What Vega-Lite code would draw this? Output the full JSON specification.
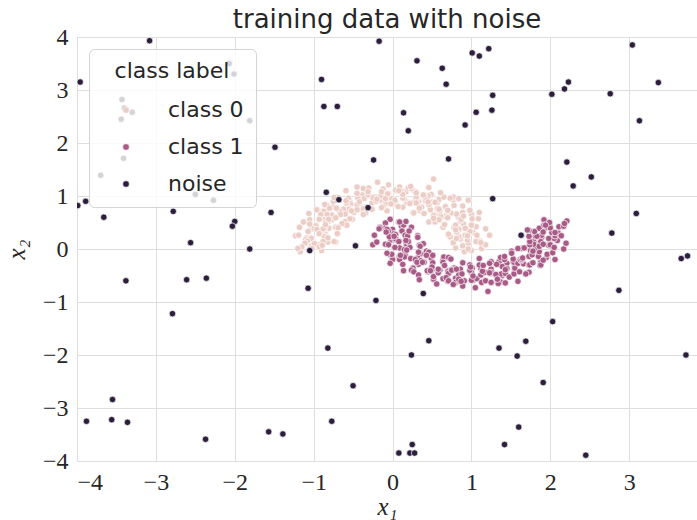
{
  "$schema": "https://vega.github.io/schema/vega-lite/v6.json",
  "width": 620,
  "height": 424,
  "autosize": "none",
  "padding": {"left": 77, "top": 37, "right": 0, "bottom": 59},
  "background": "white",
  "title": {
    "text": "training data with noise",
    "font": "DejaVu Sans",
    "fontSize": 26,
    "fontWeight": "normal",
    "color": "#262626",
    "anchor": "middle",
    "offset": -8
  },
  "data": {
    "values": [
      {"x": 0.91, "y": 0.05, "c": "class 0"}, {"x": 1.00, "y": -0.03, "c": "class 0"}, {"x": 1.13, "y": 0.01, "c": "class 0"}, {"x": 0.91, "y": -0.05, "c": "class 0"},
      {"x": 1.10, "y": 0.13, "c": "class 0"}, {"x": 0.89, "y": 0.06, "c": "class 0"}, {"x": 0.96, "y": 0.11, "c": "class 0"}, {"x": 1.17, "y": 0.08, "c": "class 0"},
      {"x": 0.86, "y": 0.19, "c": "class 0"}, {"x": 1.07, "y": 0.16, "c": "class 0"}, {"x": 0.95, "y": 0.17, "c": "class 0"}, {"x": 1.11, "y": 0.15, "c": "class 0"},
      {"x": 0.83, "y": 0.25, "c": "class 0"}, {"x": 1.02, "y": 0.31, "c": "class 0"}, {"x": 1.07, "y": 0.26, "c": "class 0"}, {"x": 0.92, "y": 0.26, "c": "class 0"},
      {"x": 0.98, "y": 0.32, "c": "class 0"}, {"x": 0.81, "y": 0.33, "c": "class 0"}, {"x": 0.98, "y": 0.33, "c": "class 0"}, {"x": 1.06, "y": 0.42, "c": "class 0"},
      {"x": 0.84, "y": 0.37, "c": "class 0"}, {"x": 0.90, "y": 0.47, "c": "class 0"}, {"x": 0.92, "y": 0.39, "c": "class 0"}, {"x": 1.00, "y": 0.47, "c": "class 0"},
      {"x": 0.78, "y": 0.40, "c": "class 0"}, {"x": 0.86, "y": 0.53, "c": "class 0"}, {"x": 1.01, "y": 0.62, "c": "class 0"}, {"x": 0.80, "y": 0.45, "c": "class 0"},
      {"x": 0.88, "y": 0.63, "c": "class 0"}, {"x": 0.65, "y": 0.43, "c": "class 0"}, {"x": 0.83, "y": 0.61, "c": "class 0"}, {"x": 1.00, "y": 0.66, "c": "class 0"},
      {"x": 0.67, "y": 0.61, "c": "class 0"}, {"x": 0.81, "y": 0.66, "c": "class 0"}, {"x": 0.69, "y": 0.65, "c": "class 0"}, {"x": 0.89, "y": 0.69, "c": "class 0"},
      {"x": 0.61, "y": 0.62, "c": "class 0"}, {"x": 0.74, "y": 0.68, "c": "class 0"}, {"x": 0.78, "y": 0.82, "c": "class 0"}, {"x": 0.70, "y": 0.72, "c": "class 0"},
      {"x": 0.67, "y": 0.80, "c": "class 0"}, {"x": 0.54, "y": 0.65, "c": "class 0"}, {"x": 0.60, "y": 0.71, "c": "class 0"}, {"x": 0.77, "y": 0.93, "c": "class 0"},
      {"x": 0.58, "y": 0.74, "c": "class 0"}, {"x": 0.57, "y": 0.88, "c": "class 0"}, {"x": 0.57, "y": 0.77, "c": "class 0"}, {"x": 0.59, "y": 0.94, "c": "class 0"},
      {"x": 0.48, "y": 0.74, "c": "class 0"}, {"x": 0.50, "y": 0.88, "c": "class 0"}, {"x": 0.59, "y": 0.94, "c": "class 0"}, {"x": 0.46, "y": 0.84, "c": "class 0"},
      {"x": 0.49, "y": 1.03, "c": "class 0"}, {"x": 0.34, "y": 0.73, "c": "class 0"}, {"x": 0.42, "y": 0.91, "c": "class 0"}, {"x": 0.45, "y": 1.00, "c": "class 0"},
      {"x": 0.33, "y": 0.90, "c": "class 0"}, {"x": 0.41, "y": 0.98, "c": "class 0"}, {"x": 0.30, "y": 0.93, "c": "class 0"}, {"x": 0.39, "y": 1.02, "c": "class 0"},
      {"x": 0.18, "y": 0.88, "c": "class 0"}, {"x": 0.30, "y": 0.97, "c": "class 0"}, {"x": 0.28, "y": 1.09, "c": "class 0"}, {"x": 0.27, "y": 0.88, "c": "class 0"},
      {"x": 0.17, "y": 1.08, "c": "class 0"}, {"x": 0.18, "y": 0.88, "c": "class 0"}, {"x": 0.15, "y": 0.95, "c": "class 0"}, {"x": 0.20, "y": 1.15, "c": "class 0"},
      {"x": 0.04, "y": 0.87, "c": "class 0"}, {"x": 0.11, "y": 1.09, "c": "class 0"}, {"x": 0.13, "y": 0.96, "c": "class 0"}, {"x": 0.07, "y": 1.13, "c": "class 0"},
      {"x": 0.01, "y": 0.86, "c": "class 0"}, {"x": -0.05, "y": 1.05, "c": "class 0"}, {"x": 0.04, "y": 1.11, "c": "class 0"}, {"x": -0.01, "y": 0.95, "c": "class 0"},
      {"x": -0.07, "y": 1.04, "c": "class 0"}, {"x": -0.09, "y": 0.86, "c": "class 0"}, {"x": -0.06, "y": 1.04, "c": "class 0"}, {"x": -0.12, "y": 1.13, "c": "class 0"},
      {"x": -0.16, "y": 0.92, "c": "class 0"}, {"x": -0.22, "y": 0.98, "c": "class 0"}, {"x": -0.15, "y": 1.00, "c": "class 0"}, {"x": -0.14, "y": 1.08, "c": "class 0"},
      {"x": -0.26, "y": 0.87, "c": "class 0"}, {"x": -0.25, "y": 0.97, "c": "class 0"}, {"x": -0.34, "y": 1.12, "c": "class 0"}, {"x": -0.21, "y": 0.90, "c": "class 0"},
      {"x": -0.38, "y": 1.02, "c": "class 0"}, {"x": -0.27, "y": 0.75, "c": "class 0"}, {"x": -0.36, "y": 0.95, "c": "class 0"}, {"x": -0.37, "y": 1.14, "c": "class 0"},
      {"x": -0.41, "y": 0.80, "c": "class 0"}, {"x": -0.44, "y": 0.96, "c": "class 0"}, {"x": -0.45, "y": 0.83, "c": "class 0"}, {"x": -0.45, "y": 1.05, "c": "class 0"},
      {"x": -0.39, "y": 0.75, "c": "class 0"}, {"x": -0.54, "y": 0.90, "c": "class 0"}, {"x": -0.56, "y": 0.96, "c": "class 0"}, {"x": -0.53, "y": 0.85, "c": "class 0"},
      {"x": -0.58, "y": 0.86, "c": "class 0"}, {"x": -0.49, "y": 0.69, "c": "class 0"}, {"x": -0.55, "y": 0.77, "c": "class 0"}, {"x": -0.69, "y": 0.97, "c": "class 0"},
      {"x": -0.56, "y": 0.75, "c": "class 0"}, {"x": -0.70, "y": 0.77, "c": "class 0"}, {"x": -0.62, "y": 0.75, "c": "class 0"}, {"x": -0.75, "y": 0.80, "c": "class 0"},
      {"x": -0.60, "y": 0.66, "c": "class 0"}, {"x": -0.67, "y": 0.71, "c": "class 0"}, {"x": -0.83, "y": 0.82, "c": "class 0"}, {"x": -0.66, "y": 0.65, "c": "class 0"},
      {"x": -0.88, "y": 0.72, "c": "class 0"}, {"x": -0.60, "y": 0.52, "c": "class 0"}, {"x": -0.77, "y": 0.64, "c": "class 0"}, {"x": -0.87, "y": 0.71, "c": "class 0"},
      {"x": -0.77, "y": 0.55, "c": "class 0"}, {"x": -0.83, "y": 0.65, "c": "class 0"}, {"x": -0.81, "y": 0.53, "c": "class 0"}, {"x": -0.91, "y": 0.65, "c": "class 0"},
      {"x": -0.80, "y": 0.39, "c": "class 0"}, {"x": -0.86, "y": 0.55, "c": "class 0"}, {"x": -0.93, "y": 0.56, "c": "class 0"}, {"x": -0.85, "y": 0.50, "c": "class 0"},
      {"x": -0.97, "y": 0.44, "c": "class 0"}, {"x": -0.81, "y": 0.39, "c": "class 0"}, {"x": -0.86, "y": 0.40, "c": "class 0"}, {"x": -1.06, "y": 0.49, "c": "class 0"},
      {"x": -0.85, "y": 0.28, "c": "class 0"}, {"x": -1.01, "y": 0.38, "c": "class 0"}, {"x": -0.88, "y": 0.38, "c": "class 0"}, {"x": -1.06, "y": 0.35, "c": "class 0"},
      {"x": -0.85, "y": 0.24, "c": "class 0"}, {"x": -1.03, "y": 0.21, "c": "class 0"}, {"x": -1.07, "y": 0.33, "c": "class 0"}, {"x": -0.87, "y": 0.24, "c": "class 0"},
      {"x": -1.09, "y": 0.21, "c": "class 0"}, {"x": -0.82, "y": 0.13, "c": "class 0"}, {"x": -1.03, "y": 0.20, "c": "class 0"}, {"x": -1.10, "y": 0.18, "c": "class 0"},
      {"x": -0.93, "y": 0.08, "c": "class 0"}, {"x": -1.03, "y": 0.05, "c": "class 0"}, {"x": -0.99, "y": 0.10, "c": "class 0"}, {"x": -1.08, "y": 0.15, "c": "class 0"},
      {"x": -0.90, "y": -0.03, "c": "class 0"}, {"x": -1.02, "y": 0.01, "c": "class 0"}, {"x": -1.17, "y": -0.05, "c": "class 0"}, {"x": -0.93, "y": 0.04, "c": "class 0"},
      {"x": 0.52, "y": 1.32, "c": "class 0"}, {"x": 0.96, "y": 0.92, "c": "class 0"}, {"x": 1.10, "y": 0.69, "c": "class 0"}, {"x": 0.46, "y": 0.51, "c": "class 0"},
      {"x": -1.13, "y": 0.51, "c": "class 0"}, {"x": -1.23, "y": 0.25, "c": "class 0"}, {"x": 0.77, "y": 0.98, "c": "class 0"},
      {"x": 0.80, "y": 0.02, "c": "class 0"}, {"x": 1.18, "y": 0.08, "c": "class 0"}, {"x": 0.96, "y": 0.00, "c": "class 0"}, {"x": 1.06, "y": 0.14, "c": "class 0"},
      {"x": 0.77, "y": 0.12, "c": "class 0"}, {"x": 1.12, "y": 0.12, "c": "class 0"}, {"x": 0.84, "y": 0.23, "c": "class 0"}, {"x": 1.23, "y": 0.26, "c": "class 0"},
      {"x": 0.95, "y": 0.25, "c": "class 0"}, {"x": 0.81, "y": 0.20, "c": "class 0"}, {"x": 0.73, "y": 0.23, "c": "class 0"}, {"x": 1.18, "y": 0.38, "c": "class 0"},
      {"x": 0.81, "y": 0.32, "c": "class 0"}, {"x": 1.00, "y": 0.45, "c": "class 0"}, {"x": 0.71, "y": 0.28, "c": "class 0"}, {"x": 1.01, "y": 0.57, "c": "class 0"},
      {"x": 0.80, "y": 0.36, "c": "class 0"}, {"x": 1.09, "y": 0.57, "c": "class 0"}, {"x": 0.87, "y": 0.56, "c": "class 0"}, {"x": 0.64, "y": 0.41, "c": "class 0"},
      {"x": 0.66, "y": 0.46, "c": "class 0"}, {"x": 0.98, "y": 0.73, "c": "class 0"}, {"x": 0.70, "y": 0.59, "c": "class 0"}, {"x": 0.90, "y": 0.62, "c": "class 0"},
      {"x": 0.54, "y": 0.51, "c": "class 0"}, {"x": 0.89, "y": 0.81, "c": "class 0"}, {"x": 0.59, "y": 0.55, "c": "class 0"}, {"x": 0.84, "y": 0.95, "c": "class 0"},
      {"x": 0.70, "y": 0.73, "c": "class 0"}, {"x": 0.52, "y": 0.63, "c": "class 0"}, {"x": 0.52, "y": 0.58, "c": "class 0"}, {"x": 0.73, "y": 0.96, "c": "class 0"},
      {"x": 0.59, "y": 0.75, "c": "class 0"}, {"x": 0.54, "y": 0.88, "c": "class 0"}, {"x": 0.40, "y": 0.67, "c": "class 0"}, {"x": 0.65, "y": 0.98, "c": "class 0"},
      {"x": 0.37, "y": 0.79, "c": "class 0"}, {"x": 0.61, "y": 1.06, "c": "class 0"}, {"x": 0.45, "y": 0.89, "c": "class 0"}, {"x": 0.34, "y": 0.77, "c": "class 0"},
      {"x": 0.26, "y": 0.69, "c": "class 0"}, {"x": 0.46, "y": 1.16, "c": "class 0"}, {"x": 0.30, "y": 0.87, "c": "class 0"}, {"x": 0.30, "y": 1.06, "c": "class 0"},
      {"x": 0.27, "y": 0.68, "c": "class 0"}, {"x": 0.24, "y": 1.14, "c": "class 0"}, {"x": 0.22, "y": 0.86, "c": "class 0"}, {"x": 0.23, "y": 1.18, "c": "class 0"},
      {"x": 0.13, "y": 1.03, "c": "class 0"}, {"x": 0.13, "y": 0.79, "c": "class 0"}, {"x": 0.07, "y": 0.80, "c": "class 0"}, {"x": 0.09, "y": 1.17, "c": "class 0"},
      {"x": 0.03, "y": 0.92, "c": "class 0"}, {"x": 0.08, "y": 1.10, "c": "class 0"}, {"x": -0.07, "y": 0.72, "c": "class 0"}, {"x": -0.05, "y": 1.21, "c": "class 0"},
      {"x": -0.02, "y": 0.85, "c": "class 0"}, {"x": -0.19, "y": 1.26, "c": "class 0"}, {"x": -0.09, "y": 0.95, "c": "class 0"}, {"x": -0.12, "y": 0.80, "c": "class 0"},
      {"x": -0.14, "y": 0.78, "c": "class 0"}, {"x": -0.30, "y": 1.15, "c": "class 0"}, {"x": -0.20, "y": 0.94, "c": "class 0"}, {"x": -0.31, "y": 1.02, "c": "class 0"},
      {"x": -0.26, "y": 0.75, "c": "class 0"}, {"x": -0.31, "y": 1.08, "c": "class 0"}, {"x": -0.34, "y": 0.79, "c": "class 0"}, {"x": -0.45, "y": 1.17, "c": "class 0"},
      {"x": -0.42, "y": 0.89, "c": "class 0"}, {"x": -0.37, "y": 0.76, "c": "class 0"}, {"x": -0.34, "y": 0.68, "c": "class 0"}, {"x": -0.59, "y": 1.10, "c": "class 0"},
      {"x": -0.45, "y": 0.74, "c": "class 0"}, {"x": -0.59, "y": 0.91, "c": "class 0"}, {"x": -0.37, "y": 0.65, "c": "class 0"}, {"x": -0.75, "y": 0.90, "c": "class 0"},
      {"x": -0.52, "y": 0.72, "c": "class 0"}, {"x": -0.74, "y": 0.97, "c": "class 0"}, {"x": -0.71, "y": 0.77, "c": "class 0"}, {"x": -0.51, "y": 0.56, "c": "class 0"},
      {"x": -0.54, "y": 0.57, "c": "class 0"}, {"x": -0.86, "y": 0.84, "c": "class 0"}, {"x": -0.72, "y": 0.59, "c": "class 0"}, {"x": -0.80, "y": 0.77, "c": "class 0"},
      {"x": -0.58, "y": 0.45, "c": "class 0"}, {"x": -0.96, "y": 0.74, "c": "class 0"}, {"x": -0.64, "y": 0.48, "c": "class 0"}, {"x": -1.06, "y": 0.67, "c": "class 0"},
      {"x": -0.81, "y": 0.56, "c": "class 0"}, {"x": -0.72, "y": 0.41, "c": "class 0"}, {"x": -0.69, "y": 0.40, "c": "class 0"}, {"x": -1.05, "y": 0.55, "c": "class 0"},
      {"x": -0.85, "y": 0.46, "c": "class 0"}, {"x": -0.96, "y": 0.37, "c": "class 0"}, {"x": -0.70, "y": 0.29, "c": "class 0"}, {"x": -1.05, "y": 0.47, "c": "class 0"},
      {"x": -0.86, "y": 0.23, "c": "class 0"}, {"x": -1.18, "y": 0.41, "c": "class 0"}, {"x": -0.93, "y": 0.29, "c": "class 0"}, {"x": -0.82, "y": 0.21, "c": "class 0"},
      {"x": -0.72, "y": 0.13, "c": "class 0"}, {"x": -1.19, "y": 0.26, "c": "class 0"}, {"x": -0.88, "y": 0.14, "c": "class 0"}, {"x": -1.11, "y": 0.11, "c": "class 0"},
      {"x": -0.74, "y": 0.14, "c": "class 0"}, {"x": -1.15, "y": 0.04, "c": "class 0"}, {"x": -0.89, "y": 0.07, "c": "class 0"}, {"x": -1.20, "y": 0.01, "c": "class 0"},

      {"x": 0.11, "y": 0.44, "c": "class 1"}, {"x": -0.03, "y": 0.56, "c": "class 1"}, {"x": -0.09, "y": 0.49, "c": "class 1"}, {"x": 0.08, "y": 0.51, "c": "class 1"},
      {"x": -0.10, "y": 0.39, "c": "class 1"}, {"x": 0.14, "y": 0.45, "c": "class 1"}, {"x": 0.00, "y": 0.37, "c": "class 1"}, {"x": -0.16, "y": 0.41, "c": "class 1"},
      {"x": 0.12, "y": 0.34, "c": "class 1"}, {"x": -0.05, "y": 0.34, "c": "class 1"}, {"x": 0.02, "y": 0.29, "c": "class 1"}, {"x": -0.07, "y": 0.37, "c": "class 1"},
      {"x": 0.16, "y": 0.26, "c": "class 1"}, {"x": -0.02, "y": 0.17, "c": "class 1"}, {"x": -0.04, "y": 0.23, "c": "class 1"}, {"x": 0.04, "y": 0.27, "c": "class 1"},
      {"x": 0.03, "y": 0.18, "c": "class 1"}, {"x": 0.17, "y": 0.13, "c": "class 1"}, {"x": 0.04, "y": 0.19, "c": "class 1"}, {"x": -0.09, "y": 0.09, "c": "class 1"},
      {"x": 0.20, "y": 0.11, "c": "class 1"}, {"x": 0.09, "y": 0.02, "c": "class 1"}, {"x": 0.08, "y": 0.14, "c": "class 1"}, {"x": 0.03, "y": 0.03, "c": "class 1"},
      {"x": 0.18, "y": 0.06, "c": "class 1"}, {"x": 0.15, "y": -0.01, "c": "class 1"}, {"x": -0.03, "y": -0.11, "c": "class 1"}, {"x": 0.22, "y": 0.03, "c": "class 1"},
      {"x": 0.09, "y": -0.14, "c": "class 1"}, {"x": 0.39, "y": 0.10, "c": "class 1"}, {"x": 0.16, "y": -0.11, "c": "class 1"}, {"x": 0.00, "y": -0.20, "c": "class 1"},
      {"x": 0.36, "y": -0.09, "c": "class 1"}, {"x": 0.15, "y": -0.15, "c": "class 1"}, {"x": 0.32, "y": -0.17, "c": "class 1"}, {"x": 0.09, "y": -0.20, "c": "class 1"},
      {"x": 0.41, "y": -0.09, "c": "class 1"}, {"x": 0.23, "y": -0.18, "c": "class 1"}, {"x": 0.26, "y": -0.36, "c": "class 1"}, {"x": 0.29, "y": -0.20, "c": "class 1"},
      {"x": 0.33, "y": -0.29, "c": "class 1"}, {"x": 0.49, "y": -0.17, "c": "class 1"}, {"x": 0.36, "y": -0.22, "c": "class 1"}, {"x": 0.24, "y": -0.40, "c": "class 1"},
      {"x": 0.40, "y": -0.24, "c": "class 1"}, {"x": 0.45, "y": -0.42, "c": "class 1"}, {"x": 0.40, "y": -0.25, "c": "class 1"}, {"x": 0.45, "y": -0.43, "c": "class 1"},
      {"x": 0.51, "y": -0.26, "c": "class 1"}, {"x": 0.50, "y": -0.39, "c": "class 1"}, {"x": 0.44, "y": -0.41, "c": "class 1"}, {"x": 0.50, "y": -0.34, "c": "class 1"},
      {"x": 0.52, "y": -0.57, "c": "class 1"}, {"x": 0.64, "y": -0.21, "c": "class 1"}, {"x": 0.60, "y": -0.40, "c": "class 1"}, {"x": 0.52, "y": -0.52, "c": "class 1"},
      {"x": 0.71, "y": -0.41, "c": "class 1"}, {"x": 0.58, "y": -0.45, "c": "class 1"}, {"x": 0.70, "y": -0.43, "c": "class 1"}, {"x": 0.64, "y": -0.56, "c": "class 1"},
      {"x": 0.78, "y": -0.36, "c": "class 1"}, {"x": 0.71, "y": -0.46, "c": "class 1"}, {"x": 0.70, "y": -0.61, "c": "class 1"}, {"x": 0.75, "y": -0.39, "c": "class 1"},
      {"x": 0.80, "y": -0.55, "c": "class 1"}, {"x": 0.86, "y": -0.38, "c": "class 1"}, {"x": 0.84, "y": -0.49, "c": "class 1"}, {"x": 0.80, "y": -0.63, "c": "class 1"},
      {"x": 0.99, "y": -0.36, "c": "class 1"}, {"x": 0.85, "y": -0.61, "c": "class 1"}, {"x": 0.88, "y": -0.47, "c": "class 1"}, {"x": 0.91, "y": -0.60, "c": "class 1"},
      {"x": 1.01, "y": -0.36, "c": "class 1"}, {"x": 1.02, "y": -0.59, "c": "class 1"}, {"x": 1.00, "y": -0.59, "c": "class 1"}, {"x": 1.00, "y": -0.44, "c": "class 1"},
      {"x": 1.07, "y": -0.56, "c": "class 1"}, {"x": 1.12, "y": -0.37, "c": "class 1"}, {"x": 1.02, "y": -0.51, "c": "class 1"}, {"x": 1.13, "y": -0.63, "c": "class 1"},
      {"x": 1.14, "y": -0.46, "c": "class 1"}, {"x": 1.24, "y": -0.46, "c": "class 1"}, {"x": 1.12, "y": -0.49, "c": "class 1"}, {"x": 1.18, "y": -0.60, "c": "class 1"},
      {"x": 1.25, "y": -0.38, "c": "class 1"}, {"x": 1.25, "y": -0.44, "c": "class 1"}, {"x": 1.37, "y": -0.62, "c": "class 1"}, {"x": 1.17, "y": -0.44, "c": "class 1"},
      {"x": 1.39, "y": -0.50, "c": "class 1"}, {"x": 1.25, "y": -0.24, "c": "class 1"}, {"x": 1.38, "y": -0.47, "c": "class 1"}, {"x": 1.34, "y": -0.65, "c": "class 1"},
      {"x": 1.45, "y": -0.27, "c": "class 1"}, {"x": 1.43, "y": -0.46, "c": "class 1"}, {"x": 1.45, "y": -0.37, "c": "class 1"}, {"x": 1.48, "y": -0.53, "c": "class 1"},
      {"x": 1.35, "y": -0.24, "c": "class 1"}, {"x": 1.55, "y": -0.42, "c": "class 1"}, {"x": 1.54, "y": -0.47, "c": "class 1"}, {"x": 1.55, "y": -0.32, "c": "class 1"},
      {"x": 1.55, "y": -0.36, "c": "class 1"}, {"x": 1.53, "y": -0.23, "c": "class 1"}, {"x": 1.54, "y": -0.25, "c": "class 1"}, {"x": 1.69, "y": -0.46, "c": "class 1"},
      {"x": 1.59, "y": -0.27, "c": "class 1"}, {"x": 1.66, "y": -0.28, "c": "class 1"}, {"x": 1.63, "y": -0.22, "c": "class 1"}, {"x": 1.73, "y": -0.30, "c": "class 1"},
      {"x": 1.62, "y": -0.20, "c": "class 1"}, {"x": 1.64, "y": -0.19, "c": "class 1"}, {"x": 1.87, "y": -0.31, "c": "class 1"}, {"x": 1.65, "y": -0.17, "c": "class 1"},
      {"x": 1.88, "y": -0.23, "c": "class 1"}, {"x": 1.63, "y": 0.01, "c": "class 1"}, {"x": 1.73, "y": -0.14, "c": "class 1"}, {"x": 1.88, "y": -0.25, "c": "class 1"},
      {"x": 1.75, "y": -0.03, "c": "class 1"}, {"x": 1.85, "y": -0.14, "c": "class 1"}, {"x": 1.78, "y": -0.05, "c": "class 1"}, {"x": 1.95, "y": -0.16, "c": "class 1"},
      {"x": 1.79, "y": 0.14, "c": "class 1"}, {"x": 1.86, "y": -0.05, "c": "class 1"}, {"x": 1.96, "y": -0.10, "c": "class 1"}, {"x": 1.81, "y": 0.02, "c": "class 1"},
      {"x": 1.98, "y": 0.07, "c": "class 1"}, {"x": 1.79, "y": 0.09, "c": "class 1"}, {"x": 1.88, "y": 0.09, "c": "class 1"}, {"x": 2.03, "y": 0.04, "c": "class 1"},
      {"x": 1.89, "y": 0.22, "c": "class 1"}, {"x": 2.00, "y": 0.08, "c": "class 1"}, {"x": 1.88, "y": 0.14, "c": "class 1"}, {"x": 2.09, "y": 0.16, "c": "class 1"},
      {"x": 1.81, "y": 0.24, "c": "class 1"}, {"x": 2.04, "y": 0.28, "c": "class 1"}, {"x": 2.05, "y": 0.20, "c": "class 1"}, {"x": 1.89, "y": 0.26, "c": "class 1"},
      {"x": 2.06, "y": 0.25, "c": "class 1"}, {"x": 1.86, "y": 0.39, "c": "class 1"}, {"x": 2.02, "y": 0.31, "c": "class 1"}, {"x": 2.10, "y": 0.30, "c": "class 1"},
      {"x": 1.96, "y": 0.41, "c": "class 1"}, {"x": 1.99, "y": 0.48, "c": "class 1"}, {"x": 2.00, "y": 0.40, "c": "class 1"}, {"x": 2.06, "y": 0.31, "c": "class 1"},
      {"x": 1.92, "y": 0.55, "c": "class 1"}, {"x": 1.99, "y": 0.50, "c": "class 1"}, {"x": 2.21, "y": 0.53, "c": "class 1"}, {"x": 1.92, "y": 0.45, "c": "class 1"},
      {"x": -0.25, "y": 0.08, "c": "class 1"}, {"x": 2.17, "y": 0.00, "c": "class 1"},
      {"x": 0.17, "y": 0.52, "c": "class 1"}, {"x": -0.16, "y": 0.40, "c": "class 1"}, {"x": 0.09, "y": 0.51, "c": "class 1"}, {"x": -0.08, "y": 0.32, "c": "class 1"},
      {"x": 0.24, "y": 0.41, "c": "class 1"}, {"x": -0.17, "y": 0.38, "c": "class 1"}, {"x": 0.19, "y": 0.24, "c": "class 1"}, {"x": -0.23, "y": 0.26, "c": "class 1"},
      {"x": 0.02, "y": 0.24, "c": "class 1"}, {"x": 0.21, "y": 0.34, "c": "class 1"}, {"x": 0.32, "y": 0.25, "c": "class 1"}, {"x": -0.20, "y": 0.13, "c": "class 1"},
      {"x": 0.20, "y": 0.14, "c": "class 1"}, {"x": -0.05, "y": 0.08, "c": "class 1"}, {"x": 0.32, "y": 0.22, "c": "class 1"}, {"x": -0.01, "y": -0.10, "c": "class 1"},
      {"x": 0.17, "y": 0.16, "c": "class 1"}, {"x": -0.07, "y": -0.08, "c": "class 1"}, {"x": 0.18, "y": -0.02, "c": "class 1"}, {"x": 0.34, "y": 0.07, "c": "class 1"},
      {"x": 0.35, "y": 0.05, "c": "class 1"}, {"x": -0.03, "y": -0.27, "c": "class 1"}, {"x": 0.33, "y": -0.06, "c": "class 1"}, {"x": 0.10, "y": -0.12, "c": "class 1"},
      {"x": 0.43, "y": -0.04, "c": "class 1"}, {"x": 0.13, "y": -0.29, "c": "class 1"}, {"x": 0.46, "y": -0.06, "c": "class 1"}, {"x": 0.14, "y": -0.41, "c": "class 1"},
      {"x": 0.31, "y": -0.25, "c": "class 1"}, {"x": 0.43, "y": -0.12, "c": "class 1"}, {"x": 0.51, "y": -0.12, "c": "class 1"}, {"x": 0.27, "y": -0.43, "c": "class 1"},
      {"x": 0.38, "y": -0.25, "c": "class 1"}, {"x": 0.48, "y": -0.41, "c": "class 1"}, {"x": 0.65, "y": -0.15, "c": "class 1"}, {"x": 0.33, "y": -0.49, "c": "class 1"},
      {"x": 0.64, "y": -0.25, "c": "class 1"}, {"x": 0.34, "y": -0.58, "c": "class 1"}, {"x": 0.58, "y": -0.38, "c": "class 1"}, {"x": 0.66, "y": -0.31, "c": "class 1"},
      {"x": 0.71, "y": -0.16, "c": "class 1"}, {"x": 0.56, "y": -0.66, "c": "class 1"}, {"x": 0.75, "y": -0.40, "c": "class 1"}, {"x": 0.68, "y": -0.54, "c": "class 1"},
      {"x": 0.74, "y": -0.19, "c": "class 1"}, {"x": 0.71, "y": -0.60, "c": "class 1"}, {"x": 0.81, "y": -0.38, "c": "class 1"}, {"x": 0.77, "y": -0.67, "c": "class 1"},
      {"x": 0.84, "y": -0.57, "c": "class 1"}, {"x": 0.89, "y": -0.26, "c": "class 1"}, {"x": 0.98, "y": -0.30, "c": "class 1"}, {"x": 0.89, "y": -0.70, "c": "class 1"},
      {"x": 0.98, "y": -0.40, "c": "class 1"}, {"x": 0.87, "y": -0.61, "c": "class 1"}, {"x": 1.10, "y": -0.18, "c": "class 1"}, {"x": 1.05, "y": -0.73, "c": "class 1"},
      {"x": 0.99, "y": -0.34, "c": "class 1"}, {"x": 1.21, "y": -0.80, "c": "class 1"}, {"x": 1.14, "y": -0.42, "c": "class 1"}, {"x": 1.10, "y": -0.30, "c": "class 1"},
      {"x": 1.15, "y": -0.31, "c": "class 1"}, {"x": 1.25, "y": -0.63, "c": "class 1"}, {"x": 1.23, "y": -0.45, "c": "class 1"}, {"x": 1.31, "y": -0.48, "c": "class 1"},
      {"x": 1.23, "y": -0.27, "c": "class 1"}, {"x": 1.33, "y": -0.57, "c": "class 1"}, {"x": 1.39, "y": -0.33, "c": "class 1"}, {"x": 1.43, "y": -0.64, "c": "class 1"},
      {"x": 1.43, "y": -0.39, "c": "class 1"}, {"x": 1.32, "y": -0.29, "c": "class 1"}, {"x": 1.37, "y": -0.16, "c": "class 1"}, {"x": 1.59, "y": -0.61, "c": "class 1"},
      {"x": 1.42, "y": -0.20, "c": "class 1"}, {"x": 1.61, "y": -0.43, "c": "class 1"}, {"x": 1.42, "y": -0.14, "c": "class 1"}, {"x": 1.73, "y": -0.44, "c": "class 1"},
      {"x": 1.53, "y": -0.19, "c": "class 1"}, {"x": 1.69, "y": -0.47, "c": "class 1"}, {"x": 1.74, "y": -0.30, "c": "class 1"}, {"x": 1.51, "y": -0.04, "c": "class 1"},
      {"x": 1.51, "y": -0.08, "c": "class 1"}, {"x": 1.88, "y": -0.30, "c": "class 1"}, {"x": 1.77, "y": -0.11, "c": "class 1"}, {"x": 1.78, "y": -0.26, "c": "class 1"},
      {"x": 1.59, "y": 0.01, "c": "class 1"}, {"x": 1.91, "y": -0.21, "c": "class 1"}, {"x": 1.67, "y": 0.02, "c": "class 1"}, {"x": 2.06, "y": -0.20, "c": "class 1"},
      {"x": 1.78, "y": -0.04, "c": "class 1"}, {"x": 1.74, "y": 0.08, "c": "class 1"}, {"x": 1.74, "y": 0.14, "c": "class 1"}, {"x": 2.03, "y": -0.07, "c": "class 1"},
      {"x": 1.86, "y": 0.05, "c": "class 1"}, {"x": 1.91, "y": 0.09, "c": "class 1"}, {"x": 1.73, "y": 0.24, "c": "class 1"}, {"x": 2.05, "y": 0.03, "c": "class 1"},
      {"x": 1.83, "y": 0.24, "c": "class 1"}, {"x": 2.20, "y": 0.11, "c": "class 1"}, {"x": 1.98, "y": 0.20, "c": "class 1"}, {"x": 1.80, "y": 0.33, "c": "class 1"},
      {"x": 1.73, "y": 0.35, "c": "class 1"}, {"x": 2.14, "y": 0.25, "c": "class 1"}, {"x": 1.91, "y": 0.32, "c": "class 1"}, {"x": 2.11, "y": 0.42, "c": "class 1"},
      {"x": 1.71, "y": 0.36, "c": "class 1"}, {"x": 2.17, "y": 0.43, "c": "class 1"}, {"x": 1.94, "y": 0.45, "c": "class 1"}, {"x": 2.18, "y": 0.48, "c": "class 1"},

      {"x": -3.08, "y": 3.93, "c": "noise"}, {"x": -3.96, "y": 3.15, "c": "noise"}, {"x": -3.43, "y": 2.82, "c": "noise"}, {"x": -3.40, "y": 2.66, "c": "noise"},
      {"x": -3.44, "y": 2.45, "c": "noise"}, {"x": -3.30, "y": 2.58, "c": "noise"}, {"x": -2.07, "y": 3.50, "c": "noise"}, {"x": -2.01, "y": 3.30, "c": "noise"},
      {"x": -1.81, "y": 2.42, "c": "noise"}, {"x": -1.49, "y": 1.92, "c": "noise"}, {"x": -3.41, "y": 1.71, "c": "noise"}, {"x": -3.70, "y": 1.39, "c": "noise"},
      {"x": -2.50, "y": 1.03, "c": "noise"}, {"x": -2.27, "y": 0.92, "c": "noise"}, {"x": -3.99, "y": 0.82, "c": "noise"}, {"x": -3.89, "y": 0.90, "c": "noise"},
      {"x": -3.66, "y": 0.60, "c": "noise"}, {"x": -2.78, "y": 0.71, "c": "noise"}, {"x": -2.00, "y": 0.52, "c": "noise"}, {"x": -2.03, "y": 0.43, "c": "noise"},
      {"x": -1.54, "y": 0.69, "c": "noise"}, {"x": -2.56, "y": 0.12, "c": "noise"}, {"x": -1.81, "y": 0.00, "c": "noise"}, {"x": -0.17, "y": 3.92, "c": "noise"},
      {"x": -0.90, "y": 3.20, "c": "noise"}, {"x": -0.87, "y": 2.69, "c": "noise"}, {"x": -0.70, "y": 2.69, "c": "noise"}, {"x": 0.31, "y": 3.55, "c": "noise"},
      {"x": 0.63, "y": 3.41, "c": "noise"}, {"x": 0.68, "y": 3.11, "c": "noise"}, {"x": 1.01, "y": 3.70, "c": "noise"}, {"x": 1.10, "y": 3.64, "c": "noise"},
      {"x": 1.22, "y": 3.78, "c": "noise"}, {"x": 0.14, "y": 2.57, "c": "noise"}, {"x": 0.20, "y": 2.23, "c": "noise"}, {"x": 0.92, "y": 2.34, "c": "noise"},
      {"x": 1.06, "y": 2.58, "c": "noise"}, {"x": 1.26, "y": 2.62, "c": "noise"}, {"x": 1.27, "y": 2.90, "c": "noise"}, {"x": -0.24, "y": 1.68, "c": "noise"},
      {"x": 0.71, "y": 1.70, "c": "noise"}, {"x": -0.84, "y": 1.07, "c": "noise"}, {"x": -0.68, "y": 0.93, "c": "noise"}, {"x": -0.31, "y": 0.78, "c": "noise"},
      {"x": 1.27, "y": 0.95, "c": "noise"}, {"x": -0.47, "y": 0.06, "c": "noise"}, {"x": -1.05, "y": -0.03, "c": "noise"}, {"x": 3.04, "y": 3.85, "c": "noise"},
      {"x": 3.37, "y": 3.14, "c": "noise"}, {"x": 2.23, "y": 3.15, "c": "noise"}, {"x": 2.18, "y": 3.02, "c": "noise"}, {"x": 2.02, "y": 2.92, "c": "noise"},
      {"x": 2.76, "y": 2.93, "c": "noise"}, {"x": 3.13, "y": 2.42, "c": "noise"}, {"x": 2.21, "y": 1.64, "c": "noise"}, {"x": 2.52, "y": 1.36, "c": "noise"},
      {"x": 2.29, "y": 1.19, "c": "noise"}, {"x": 3.09, "y": 0.67, "c": "noise"}, {"x": 2.78, "y": 0.30, "c": "noise"}, {"x": 1.63, "y": 0.26, "c": "noise"},
      {"x": -3.38, "y": -0.60, "c": "noise"}, {"x": -2.61, "y": -0.58, "c": "noise"}, {"x": -2.36, "y": -0.55, "c": "noise"}, {"x": -2.79, "y": -1.22, "c": "noise"},
      {"x": -3.55, "y": -2.84, "c": "noise"}, {"x": -3.88, "y": -3.25, "c": "noise"}, {"x": -3.56, "y": -3.22, "c": "noise"}, {"x": -3.36, "y": -3.27, "c": "noise"},
      {"x": -2.37, "y": -3.59, "c": "noise"}, {"x": -1.57, "y": -3.45, "c": "noise"}, {"x": -1.39, "y": -3.49, "c": "noise"}, {"x": -1.07, "y": -0.74, "c": "noise"},
      {"x": -0.82, "y": -1.87, "c": "noise"}, {"x": -0.77, "y": -3.25, "c": "noise"}, {"x": -0.21, "y": -0.97, "c": "noise"}, {"x": 0.39, "y": -0.84, "c": "noise"},
      {"x": 0.46, "y": -1.73, "c": "noise"}, {"x": 0.24, "y": -2.00, "c": "noise"}, {"x": -0.50, "y": -2.58, "c": "noise"}, {"x": 0.08, "y": -3.85, "c": "noise"},
      {"x": 0.22, "y": -3.85, "c": "noise"}, {"x": 0.28, "y": -3.85, "c": "noise"}, {"x": 0.25, "y": -3.69, "c": "noise"}, {"x": 3.66, "y": -0.18, "c": "noise"},
      {"x": 3.74, "y": -0.13, "c": "noise"}, {"x": 2.87, "y": -0.78, "c": "noise"}, {"x": 2.03, "y": -1.37, "c": "noise"}, {"x": 1.69, "y": -1.74, "c": "noise"},
      {"x": 1.35, "y": -1.87, "c": "noise"}, {"x": 1.58, "y": -2.02, "c": "noise"}, {"x": 1.91, "y": -2.52, "c": "noise"}, {"x": 3.72, "y": -2.00, "c": "noise"},
      {"x": 1.60, "y": -3.36, "c": "noise"}, {"x": 1.42, "y": -3.69, "c": "noise"}, {"x": 2.45, "y": -3.89, "c": "noise"}
    ]
  },
  "mark": {
    "type": "point",
    "filled": true,
    "opacity": 1,
    "size": 42,
    "stroke": "white",
    "strokeWidth": 0.7,
    "clip": true
  },
  "encoding": {
    "x": {
      "field": "x",
      "type": "quantitative",
      "scale": {"domain": [-4, 3.86], "nice": false, "zero": false},
      "axis": {"values": [-4, -3, -2, -1, 0, 1, 2, 3], "title": "x₁"}
    },
    "y": {
      "field": "y",
      "type": "quantitative",
      "scale": {"domain": [-4, 4], "nice": false, "zero": false},
      "axis": {"values": [-4, -3, -2, -1, 0, 1, 2, 3, 4], "title": "x₂"}
    },
    "color": {
      "field": "c",
      "type": "nominal",
      "title": "class label",
      "scale": {
        "domain": ["class 0", "class 1", "noise"],
        "range": ["#ebcdc6", "#a85b86", "#2d1e3e"]
      },
      "legend": {
        "orient": "none",
        "legendX": 12,
        "legendY": 12,
        "padding": 12,
        "fillColor": "rgba(255,255,255,0.8)",
        "strokeColor": "#d4d4d4",
        "cornerRadius": 5,
        "titleFont": "DejaVu Sans",
        "titleFontSize": 22,
        "titleFontWeight": "normal",
        "titleColor": "#262626",
        "titleAnchor": "middle",
        "titlePadding": 16,
        "labelFont": "DejaVu Sans",
        "labelFontSize": 22,
        "labelColor": "#262626",
        "rowPadding": 15,
        "symbolType": "circle",
        "symbolSize": 42,
        "symbolStrokeColor": "white",
        "symbolStrokeWidth": 0.5,
        "symbolOffset": 14,
        "labelOffset": 31
      }
    }
  },
  "config": {
    "view": {"stroke": "#d6d6d6", "strokeWidth": 1},
    "axis": {
      "domain": false,
      "ticks": false,
      "grid": true,
      "gridColor": "#dedede",
      "gridWidth": 1,
      "labelFont": "Liberation Serif",
      "labelFontSize": 24,
      "labelColor": "#262626",
      "titleFont": "Liberation Serif",
      "titleFontStyle": "italic",
      "titleFontWeight": "normal",
      "titleFontSize": 25,
      "titleColor": "#262626"
    },
    "axisX": {"labelPadding": 9, "titlePadding": 0},
    "axisY": {"labelPadding": 9, "titlePadding": 13}
  }
}
